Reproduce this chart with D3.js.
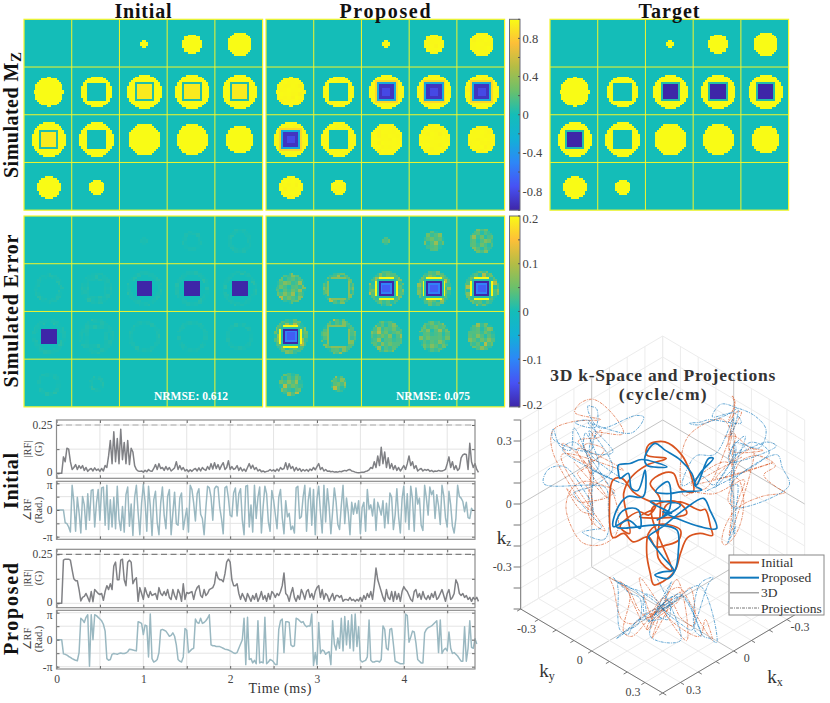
<!DOCTYPE html>
<html>
<head>
<meta charset="utf-8">
<script src="https://d3js.org/d3.v7.min.js"></script>
<style>
  body { margin: 0; background: #fff; }
  text { font-family: "Liberation Serif", serif; }
</style>
</head>
<body>
<script>
// ---------- phantom data (matrix pixels) ----------
var diskRadius = [
  [0, 0, 2.1, 5, 6.3],
  [7.6, 8.1, 8.9, 9.1, 9.1],
  [8.9, 8.9, 8.5, 8.2, 7.2],
  [5.9, 4.3, 0, 0, 0]
];
// 0 nothing, 1 hole in the disk, 2 inverted square
var insetKind = [
  [0, 0, 0, 0, 0],
  [0, 1, 2, 2, 2],
  [2, 1, 0, 0, 0],
  [0, 0, 0, 0, 0]
];
// speckle seen inside the disks of the proposed error map
var speckle = [
  "3415203416253", "2630415270314", "4152637041526", "1408253162403",
  "5263104527361", "0341728305142", "3625140316258", "2514063725130",
  "4071352614036", "1362540271425", "5240316482513", "3715024135260",
  "2403651270341"
];
var speckleLevels = [.01, .02, .03, .035, .04, .05, .065, .08, .1, .13];
var mzTicks = [.8, .4, 0, -.4, -.8];
var mzMinor = [1, .6, .2, -.2, -.6, -1];
var errTicks = [.2, .1, 0, -.1, -.2];
var errMinor = [.15, .05, -.05, -.15];
var parulaStops = [-1, -.75, -.5, -.25, 0, .25, .5, .75, 1];
var parulaColors = ["#3e26a8", "#4752f4", "#2d87f7", "#12b1d6", "#14bdb8", "#6bc06b", "#b4bd45", "#fdbf38", "#f9fb15"];

// ---------- RF waveforms, one value every 0.02 ms ----------
var rfStep = 0.02;
var initialMag = [0,0,0,0,.085,.06,.13,.125,.06,.02,.03,.045,.02,.04,.025,.04,.015,.03,.01,.02,.025,
  .012,.028,.015,.022,.01,.025,.012,
  .04,.03,.09,.17,.05,.215,.06,.18,.05,.228,.07,.16,.05,.17,.045,.13,.11,.04,.02,.012,
  .01,.012,.006,.015,.008,.02,.012,.01,.025,.045,.02,.05,.025,.03,.015,.035,.018,.03,.012,.02,
  .028,.06,.02,.04,.018,.03,.012,.02,.008,.018,.01,.02,.025,.012,.028,.012,.03,.02,.015,.035,
  .02,.05,.022,.055,.025,.045,.02,.04,.055,.02,.03,.065,.02,.035,.02,
  .025,.04,.015,.03,.012,.022,.01,.03,.05,.025,.042,.02,.03,.012,.02,.008,.012,.006,.01,.012,
  .02,.012,.018,.01,.022,.012,.03,.02,.025,.055,.02,.05,.025,.035,.012,.03,.015,.025,.01,.02,
  .012,.02,.01,.022,.015,.03,.018,.035,.05,.02,
  .03,.012,.02,.01,.012,.008,.01,.006,.008,.006,.01,.008,.012,.015,.012,.018,.02,.012,.01,.006,.004,.003,.004,.006,.005,
  .01,.012,.018,.03,.025,.06,.03,.09,.04,.135,.05,.11,.03,.08,.025,.05,.02,.04,.015,.03,.012,.025,.04,.02,.05,
  .09,.04,.06,.025,.04,.012,.02,.025,.012,.02,.015,.02,.01,.015,.008,.012,.01,.015,.012,.012,.015,.02,.05,.085,.03,
  .06,.02,.04,.015,.025,.08,.095,.1,.098,.02,.155,.06,.03,.05,.02,.005];
var initialPhase = [0,0,0,0,0,-1.5,-1.6,-2,-2.6,2.9,1,-2.5,1.5,-.3,-2.7,1.6,.6,-2.3,1.9,-1.2,2.3,2.4,-2,.8,2.4,-1.2,2.6,2.7,-1.8,2.9,
  -2.3,1.2,-2,1.5,-2.2,2.8,-1.1,-2.4,.4,-2.6,1.8,2.7,-1.9,.7,-3,1.5,2.9,-.3,-2.9,.8,
  3,1,-2.5,2.8,.5,-3,1.2,2.2,-1.5,-2.9,.8,2.7,-.6,-2.2,1.6,2.4,-2.9,-.4,2.1,-1.6,
  -1.8,1.4,2,-2.3,-1,.2,-2.6,2.9,2.4,.8,-1.3,1.9,2.5,-.5,-1,-2.9,.2,2.8,2.6,1.5,
  -1.2,2.5,2.8,2.7,.3,-1,-2.8,2.6,2.8,1.4,-.6,-.8,2,2.6,-.7,1.9,2.5,-1.2,-2.9,2.8,
  2.9,-2,.6,-2.6,2.9,-1,1.5,2.7,-2.7,.4,2.8,1.9,-1.4,-2.5,2.3,1.2,-.5,-2.2,1.5,2.4,
  -.9,-2.8,1.1,-.8,-.4,-2.3,-1.9,-2.7,2.6,2.8,-1,-.8,1.5,2.9,-2.5,1.2,2.6,-1.8,2.4,-2.9,
  1.3,2.8,-.3,-2.7,2.9,-1.4,2.5,.4,-2.8,-.2,2.6,1,-1.7,-2.3,.5,2.9,-1.6,1.4,-.3,-2.9,
  .9,-.5,.8,-.4,1.1,-2.8,.3,.9,-2.5,2.4,.1,.6,-.7,1.3,-2.4,.9,.2,-.6,1.1,-2.1,
  .8,-1.6,2,1.5,-2.3,-.6,2.5,-.8,-2.7,1.3,2.8,-1.4,1.9,-2.3,2.8,1.3,-2.5,2.6,.7,1.4,
  -1.8,-2.4,2.9,1.4,-.6,2.7,1.8,2.3,-1,1.8,.5,-1.7,2.9,1.7,-.9,-2,2.2,.6,-1.9,-2.7,
  -1,2.9,1.6,1.4,1,-.2,.9,-.9,-1,.2,-.1];
var proposedMag = [0,0,0,0,.22,.225,.225,.225,.22,.17,.125,.115,.115,.07,.012,.03,.035,.05,.03,.008,.06,.008,.07,.06,.05,.045,.05,.015,.06,.09,.07,
  .1,.07,.19,.21,.12,.12,.22,.225,.12,.09,.21,.22,.21,.1,.12,.13,.01,.08,.05,.02,.08,.05,.03,.06,.04,.045,.05,.02,.08,.05,.04,.06,.04,.07,.03,.02,.07,.04,.02,.07,.05,.01,.1,.02,.055,.05,.055,.06,.02,.06,.08,.09,.04,.03,.07,.04,.05,.07,.075,.08,.1,.16,.13,.12,.12,.11,.15,.21,.225,.21,.12,.09,.09,.1,.05,.02,.05,.03,.01,.05,.03,.01,
  .04,.02,.05,.01,.03,.06,.02,.04,.01,.05,.02,.06,.05,.03,.05,.04,.06,.09,.155,.05,.04,.01,.05,.08,.03,.01,.04,.02,.07,.05,.02,.06,.07,.03,.05,.02,.06,.08,.09,.03,
  .07,.02,.05,.04,.01,.03,.05,.015,.04,.04,.03,.04,.01,.02,.02,.015,.03,.015,.02,.01,.02,.012,.03,.01,.04,
  .02,.05,.03,.06,.02,.09,.18,.12,.09,.06,.03,.01,.07,.03,.02,.06,.01,.06,.02,.05,.01,.06,.085,.07,.06,
  .04,.02,.01,.06,.07,.03,.05,.02,.06,.03,.02,.04,.02,.05,.03,.06,.02,.03,.05,.07,.04,.01,.05,.07,.02,
  .03,.05,.12,.1,.05,.04,.05,.03,.04,.02,.03,.01,.03,.02,.03,.01];
var proposedPhase = [0,0,0,0,-1.65,-1.7,-1.8,-1.95,-2.05,-2.2,-2.3,-2.4,-2.45,-1.5,2.5,2.3,2,2.6,2.9,-3.1,2.9,0,2.9,2.8,2.6,2.4,2.2,1.8,1,-2.2,-2.4,-2.3,-1.7,-1.6,-1.65,-1.7,-1.6,-1.55,-1.6,-1.6,-1.55,-1.4,-1.1,-1.15,-1.2,-1.25,-1.3,2.1,2,1.9,.6,1.7,1.6,-2,3,-2.2,-2.6,-2.5,-2.3,-1.5,1.1,1.2,1.1,1,.7,.4,.5,.8,.4,-.6,-2.3,-2.5,-2.6,-2,1.3,1.1,-1.5,-1.3,-1.1,-1,2.4,2,1.9,2.5,1.9,2,2.2,2.5,2.9,-.6,-.7,-.7,-.8,-.8,-.8,-.9,-1,-1.1,-1.15,-1.2,-1.3,-1.4,-1.55,-1.6,-1.5,-1,-.5,0,2.5,-2.9,2.6,-2.3,
  -2.2,-2.7,-2.4,-2.8,2.2,-2.7,-2.6,-2.7,2.6,-2.8,-2.6,-2.3,-2.4,-2.6,-2.9,
  -2.9,1.2,2.2,2.4,-1.5,2.1,2.1,2,-.6,-.8,-.7,2.5,2.4,2.2,2,2.1,1.7,1.5,1.6,1.6,3,-3,-1.5,-2.9,2,
  -1.6,-1.2,-1.3,-1.7,-1.5,-1.4,-2.9,2.2,-.5,-1.2,.2,-1,2.5,-1.3,2.7,-.6,2.2,-1,2.9,-1.3,3,-.8,1.5,-2.4,-2.6,
  -2.5,-2.4,-2,2.3,-2.4,-2.6,-2.6,-2.5,-2.5,-2.6,-2.3,1.6,1.2,-1,-1.2,1.2,1.3,-.5,-2.5,-2.6,-2.7,-2.8,-2.8,-2.8,3,
  2.8,-.3,.3,1,.9,-.4,-2.3,-2.5,-2.7,-2.7,.8,1.2,1.4,1.5,1.6,1.8,2,2.2,-1.5,2.3,-1.6,-1.2,-1,-1.3,.9,
  -1,-1.6,-1.5,-1.7,-1.9,-2.2,-2.5,-2.5,1.5,-2.5,-1,2.2,-.9,-1,.1,-.5];
var timeTicks = [0, .5, 1, 1.5, 2, 2.5, 3, 3.5, 4, 4.5];
var timeLabels = [0, 1, 2, 3, 4];
var magTicks = [0, .125, .25];
var phaseTicks = [-Math.PI, -Math.PI / 2, 0, Math.PI / 2, Math.PI];

// ---------- k-space trajectories [kx, ky, kz] in cycle/cm ----------
var initialTraj = [[0,0,-.06],[.02,.04,.025],[.04,.14,.1],[.025,.235,.1],[-.07,.17,.024],[-.025,.245,0],[.01,.29,0],[-.045,.165,-.08],[-.12,.02,-.21],[-.15,-.05,-.335],[-.135,-.065,-.415],[-.05,-.05,-.42],[.05,0,-.36],[.115,.045,-.25],[.145,.055,-.135],[.11,.03,-.07],[.045,.015,-.07],[-.06,-.02,-.14],[-.13,-.03,-.204],[-.085,.005,-.212],[0,.02,-.186],[.07,.03,-.154],[.14,.06,-.056],[.058,-.108,-.205],[-.01,-.23,-.26],[0,-.28,-.3],[0,-.3,-.163],[.03,-.25,.004],[.165,-.065,.172],[.153,-.013,.128],[.085,-.025,.057],[.02,-.02,-.005],[.08,0,-.013],[.075,-.055,-.027],[.005,-.185,-.151],[0,-.24,-.228],[.023,-.163,-.21],[.22,0,.16],[.218,.043,.26],[.105,.015,.245],[-.05,-.03,.177],[.095,.005,.283],[.07,-.01,.311],[-.006,.006,.296],[-.11,-.01,.181],[-.178,-.022,.046],[-.006,.166,.138],[-.01,.09,.114],[-.05,.01,.126],[-.05,-.05,.096],[.075,.005,.138],[.008,-.008,.027],[.012,-.012,-.259],[-.075,-.025,-.365],[.17,.11,.119],[-.18,-.1,-.129],[.083,.218,.105],[-.085,-.215,-.211],[.1,.05,.05]];
var proposedTraj = [[0,0,-.06],[-.04,0,-.04],[.035,.065,.156],[.04,0,.078],[-.07,-.03,0],[-.12,-.02,-.012],[.02,.24,.196],[.01,.19,.19],[-.225,-.015,.026],[-.293,-.008,.067],[-.249,.009,.097],[-.045,.145,.14],[.018,.182,.246],[.02,.12,.279],[.004,.017,.267],[-.028,-.072,.239],[-.02,-.12,.155],[.095,.005,.235],[.018,.042,.207],[-.021,-.139,.132],[-.008,-.192,.093],[0,-.25,.06],[.045,-.205,.074],[.22,-.02,.222],[.217,.023,.266],[.178,.003,.164],[.119,-.019,.116],[.1,0,.212],[.005,-.105,-.015],[-.01,-.21,-.075],[0,-.26,-.159],[-.011,-.289,-.258],[.017,-.177,-.157],[.014,-.114,-.166],[.139,.002,.041],[.197,.003,.079],[.25,.01,.085],[.27,.01,.032],[.002,-.022,-.11],[-.08,0,-.164],[-.094,-.006,-.277],[-.095,-.025,-.375],[-.066,-.034,-.404],[.052,.008,-.308],[0,0,-.323],[-.055,.005,-.34],[.01,.01,-.241],[.095,.025,-.112],[.1,.02,-.096],[-.01,-.01,-.118],[-.118,-.002,-.089],[.015,.245,.157],[.007,.273,.111],[.008,.312,.044],[-.215,-.005,-.218],[-.09,-.01,-.119],[0,0,-.037],[-.155,-.105,-.175],[.165,.095,.141],[.1,.2,.145],[-.133,-.167,-.227]];
var kTicks = [-.4, -.3, -.2, -.1, 0, .1, .2, .3, .4];
var kzTicks = [-.5, -.4, -.3, -.2, -.1, 0, .1, .2, .3, .4];
var kLabels = [-.3, 0, .3];
var legendNames = ["Initial", "Proposed", "3D", "Projections"];

var orange = "#d9531e", blue = "#0f78bd";
var svg = d3.select("body").append("svg").attr("width", 830).attr("height", 703);

// small text helper
function label(parent, x, y, str, size, opts) {
  opts = opts || {};
  var t = parent.append("text")
    .attr("x", x).attr("y", y)
    .attr("font-size", size)
    .attr("text-anchor", opts.anchor || "middle")
    .attr("fill", opts.fill || "#444")
    .attr("font-weight", opts.bold ? "bold" : null)
    .text(str);
  if (opts.len) t.attr("textLength", opts.len).attr("lengthAdjust", "spacing");
  if (opts.rot) t.attr("transform", "rotate(-90," + x + "," + y + ")");
  return t;
}

// ****************** 3D k-space ******************
var kxS = d3.scaleLinear().domain([-.4, .4]).range([-71, 71]);
var kyS = d3.scaleLinear().domain([-.4, .4]).range([-42, 42]);
var kzS = d3.scaleLinear().domain([-.5, .4]).range([0, 189]);
var cx3 = 662.7, floorY = 609;
function project(p) {
  return [cx3 + kxS(p[1]) - kxS(p[0]), floorY + kyS(p[0]) + kyS(p[1]) - kzS(p[2])];
}
var g3 = svg.append("g");
function seg(a, b, color, w) {
  var p = project(a), q = project(b);
  g3.append("line").attr("x1", p[0]).attr("y1", p[1]).attr("x2", q[0]).attr("y2", q[1])
    .attr("stroke", color).attr("stroke-width", w);
}
var zLo = -.5, zHi = .4, kLo = -.4, kHi = .4;
kTicks.forEach(function (k) {
  var col = k === 0 ? "#c4c4c4" : "#ececec";
  // floor
  seg([k, kLo, zLo], [k, kHi, zLo], col, 1);
  seg([kLo, k, zLo], [kHi, k, zLo], col, 1);
  // two back walls
  seg([k, kLo, zLo], [k, kLo, zHi], col, 1);
  seg([kLo, k, zLo], [kLo, k, zHi], col, 1);
});
kzTicks.forEach(function (z) {
  var col = z === 0 ? "#c4c4c4" : "#ececec";
  seg([kHi, kLo, z], [kLo, kLo, z], col, 1);
  seg([kLo, kLo, z], [kLo, kHi, z], col, 1);
});
// box edges and ticks
seg([kHi, kLo, zLo], [kHi, kLo, zHi], "#777", 1);
seg([kHi, kLo, zLo], [kHi, kHi, zLo], "#777", 1);
seg([kLo, kHi, zLo], [kHi, kHi, zLo], "#777", 1);
kzTicks.forEach(function (z) { seg([kHi, kLo, z], [kHi + .02, kLo - .02, z], "#777", 1); });
kTicks.forEach(function (k) {
  seg([kHi, k, zLo], [kHi + .02, k, zLo], "#777", 1);
  seg([k, kHi, zLo], [k, kHi + .02, zLo], "#777", 1);
});
kLabels.forEach(function (k) {
  var a = project([kHi, k, zLo]), b = project([k, kHi, zLo]), c = project([kHi, kLo, k]);
  label(g3, a[0] - 12, a[1] + 13, k, 12);
  label(g3, b[0] + 13, b[1] + 11, k, 12);
  label(g3, c[0] - 9, c[1] + 4, k, 12, { anchor: "end" });
});
var kLine = d3.line().curve(d3.curveCatmullRom.alpha(.5));
function drawTraj(traj, color) {
  // projections on the floor and the two walls
  var projs = [
    traj.map(function (p) { return [p[0], p[1], zLo]; }),
    traj.map(function (p) { return [p[0], kLo, p[2]]; }),
    traj.map(function (p) { return [kLo, p[1], p[2]]; })
  ];
  projs.forEach(function (pts) {
    g3.append("path").attr("d", kLine(pts.map(project)))
      .attr("fill", "none").attr("stroke", color).attr("stroke-width", .75)
      .attr("stroke-dasharray", "3,1,1,1").attr("opacity", .85);
  });
}
function draw3D(traj, color) {
  g3.append("path").attr("d", kLine(traj.map(project)))
    .attr("fill", "none").attr("stroke", color).attr("stroke-width", 1.7);
}
drawTraj(initialTraj, orange);
drawTraj(proposedTraj, blue);
draw3D(initialTraj, orange);
draw3D(proposedTraj, blue);

label(svg, cx3, 381, "3D k-Space and Projections", 17.5, { bold: true, fill: "#333", len: 225 });
label(svg, cx3, 400, "(cycle/cm)", 17.5, { bold: true, fill: "#333", len: 88 });
var tz = label(svg, 504, 544, "k", 19, { fill: "#333" });
tz.append("tspan").attr("font-size", 11).attr("dy", 2).text("z");
var ty = label(svg, 547, 677, "k", 19, { fill: "#333" });
ty.append("tspan").attr("font-size", 12).attr("dy", 3).text("y");
var tx = label(svg, 775, 683, "k", 19, { fill: "#333" });
tx.append("tspan").attr("font-size", 12).attr("dy", 3).text("x");

// legend
var lg = svg.append("g").attr("transform", "translate(729,555)");
lg.append("rect").attr("width", 95).attr("height", 60).attr("fill", "#fff").attr("stroke", "#888");
var legendRow = d3.scalePoint().domain(legendNames).range([7.5, 53]);
legendNames.forEach(function (n, i) {
  var c = [orange, blue, "#777", "#777"][i];
  lg.append("line").attr("x1", 1).attr("x2", 30).attr("y1", legendRow(n)).attr("y2", legendRow(n))
    .attr("stroke", c).attr("stroke-width", i < 2 ? 2 : 1)
    .attr("stroke-dasharray", i === 3 ? "3,1,1,1" : null);
  label(lg, 32, legendRow(n) + 4.5, n, 13.5, { anchor: "start", fill: "#333" });
});

// ****************** image panels ******************
var parula = d3.scaleLinear().domain(parulaStops).range(parulaColors).clamp(true);
var cellPx = 47.72, matPx = cellPx / 25;
var rows = d3.range(4), cols = d3.range(5);

function speckleAt(i, j, n) {
  var row = speckle[Math.floor((j + n * 3) / 2) % 13];
  return speckleLevels[+row[Math.floor((i + n * 5) / 2) % 13]];
}
// value of one matrix pixel, dx/dy measured from the disk centre
var panelValue = {
  initMz: function (r, ins, dx, dy) {
    var m = Math.max(Math.abs(dx), Math.abs(dy));
    if (ins === 1 && m < 5) return 0;
    if (ins === 2 && m < 4) return .93;
    if (ins === 2 && m < 5) return .04;
    return Math.hypot(dx, dy) <= r ? 1 : 0;
  },
  targetMz: function (r, ins, dx, dy) {
    var m = Math.max(Math.abs(dx), Math.abs(dy));
    if (ins === 1 && m < 5) return 0;
    if (ins === 2 && m < 4) return -1;
    if (ins === 2 && m < 5) return .04;
    return Math.hypot(dx, dy) <= r ? 1 : 0;
  },
  propMz: function (r, ins, dx, dy, lev) {
    var m = Math.max(Math.abs(dx), Math.abs(dy));
    if (ins === 1 && m < 5) return 0;
    if (ins === 2 && m < 2) return -.8;
    if (ins === 2 && m < 4) return -.92;
    if (ins === 2 && m < 5) return -.3;
    if (ins === 2 && m < 6) return .85;
    return Math.hypot(dx, dy) <= r ? 1 - lev * .35 : 0;
  },
  initErr: function (r, ins, dx, dy, lev) {
    var m = Math.max(Math.abs(dx), Math.abs(dy)), d = Math.hypot(dx, dy);
    if (ins === 2 && m < 4) return -.2;
    if (d <= r && d > r - 2) return lev * .12;
    if (d <= r && ins === 1 && m > 4 && m < 6) return lev * .12;
    return 0;
  },
  propErr: function (r, ins, dx, dy, lev) {
    var a = Math.abs(dx), b = Math.abs(dy), m = Math.max(a, b), s = Math.min(a, b);
    if (ins === 2 && m < 2) return -.14;
    if (ins === 2 && m < 3) return -.105;
    if (ins === 2 && m < 4) return -.2;
    if (ins === 2 && m < 5) return .01;
    if (ins === 2 && m < 6 && s < 4.5) return .2;
    if (ins === 1 && m < 5) return 0;
    if (ins === 1 && m < 6 && s < 4) return .07;
    return Math.hypot(dx, dy) <= r ? lev : 0;
  }
};

function drawPanel(x0, y0, kind, cmax, nrmse) {
  var g = svg.append("g").attr("transform", "translate(" + x0 + "," + y0 + ")");
  var w = cellPx * 5, h = cellPx * 4;
  var xS = d3.scaleLinear().domain([0, 5]).range([0, w]);
  var yS = d3.scaleLinear().domain([0, 4]).range([0, h]);
  g.append("rect").attr("width", w).attr("height", h).attr("fill", parula(0));
  var img = g.append("g").attr("shape-rendering", "crispEdges");
  rows.forEach(function (r) {
    cols.forEach(function (c) {
      var rad = diskRadius[r][c], ins = insetKind[r][c], n = r * 5 + c;
      if (!rad) return;
      d3.range(26).forEach(function (j) {
        var run = null;
        d3.range(27).forEach(function (i) {
          var v = i < 26 ? panelValue[kind](rad, ins, i + .5 - 13, j + .5 - 13, speckleAt(i, j, n)) : 0;
          if (run && run.v === v) { run.n++; return; }
          if (run && run.v !== 0) {
            img.append("rect")
              .attr("x", xS(c) + run.i * matPx).attr("y", yS(r) + j * matPx)
              .attr("width", run.n * matPx + .3).attr("height", matPx + .3)
              .attr("fill", parula(run.v / cmax));
          }
          run = { i: i, n: 1, v: v };
        });
      });
    });
  });
  // grid and frame
  d3.range(1, 5).forEach(function (c) {
    g.append("line").attr("x1", xS(c)).attr("x2", xS(c)).attr("y1", 0).attr("y2", h)
      .attr("stroke", "#f4f52a").attr("stroke-width", 1);
  });
  d3.range(1, 4).forEach(function (r) {
    g.append("line").attr("y1", yS(r)).attr("y2", yS(r)).attr("x1", 0).attr("x2", w)
      .attr("stroke", "#f4f52a").attr("stroke-width", 1);
  });
  g.append("rect").attr("width", w).attr("height", h).attr("fill", "none")
    .attr("stroke", "#f4f52a").attr("stroke-width", 1.2);
  if (nrmse) label(g, xS(3.5), h - 7, nrmse, 11.5, { bold: true, fill: "#fff", len: 74 });
}
var colX = [24, 266, 550], rowY = [19.3, 216];
drawPanel(colX[0], rowY[0], "initMz", 1);
drawPanel(colX[1], rowY[0], "propMz", 1);
drawPanel(colX[2], rowY[0], "targetMz", 1);
drawPanel(colX[0], rowY[1], "initErr", .2, "NRMSE: 0.612");
drawPanel(colX[1], rowY[1], "propErr", .2, "NRMSE: 0.075");

function drawColorbar(y0, cmax, ticks, minor, lift) {
  var cb = svg.append("g").attr("transform", "translate(509.5," + y0 + ")");
  var s = d3.scaleLinear().domain([-cmax, cmax]).range([cellPx * 4, 0]);
  var id = "cb" + y0;
  var grad = svg.append("linearGradient").attr("id", id).attr("x1", 0).attr("x2", 0).attr("y1", 1).attr("y2", 0);
  parulaStops.forEach(function (p, i) {
    grad.append("stop").attr("offset", (p + 1) / 2).attr("stop-color", parulaColors[i]);
  });
  cb.append("rect").attr("width", 10.5).attr("height", cellPx * 4)
    .attr("fill", "url(#" + id + ")").attr("stroke", "#6d6d7a").attr("stroke-width", 1);
  ticks.concat(minor).forEach(function (t) {
    cb.append("line").attr("x1", 8.5).attr("x2", 10.5).attr("y1", s(t)).attr("y2", s(t)).attr("stroke", "#555");
  });
  ticks.forEach(function (t) {
    var ly = s(t) + 4.5;
    if (t === cmax) ly += lift;
    if (t === -cmax) ly -= lift;
    label(cb, 13, ly, t, 12.5, { anchor: "start" });
  });
}
drawColorbar(rowY[0], 1, mzTicks, mzMinor, 0);
drawColorbar(rowY[1], .2, errTicks, errMinor, 2);

// ****************** RF plots ******************
var rfX = d3.scaleLinear().domain([0, 4.82]).range([56.5, 475]);
var rfLine = function (y) {
  return d3.line().x(function (d, i) { return rfX(i * rfStep); }).y(function (d) { return y(d); });
};
function rfPlot(top, bottom, y, values, color, yt, fmt, dash, dashColor, showX) {
  var g = svg.append("g");
  // grid
  timeTicks.slice(1).forEach(function (t) {
    g.append("line").attr("x1", rfX(t)).attr("x2", rfX(t)).attr("y1", top).attr("y2", bottom).attr("stroke", "#e4e4e4");
  });
  yt.forEach(function (t) {
    g.append("line").attr("x1", rfX.range()[0]).attr("x2", rfX.range()[1]).attr("y1", y(t)).attr("y2", y(t)).attr("stroke", "#e4e4e4");
  });
  if (dash) {
    g.append("line").attr("x1", rfX.range()[0]).attr("x2", rfX.range()[1]).attr("y1", y(.25)).attr("y2", y(.25))
      .attr("stroke", dashColor).attr("stroke-width", 1).attr("stroke-dasharray", "6,3.5");
  }
  g.append("path").datum(values).attr("d", rfLine(y)).attr("fill", "none")
    .attr("stroke", color).attr("stroke-width", 1.5).attr("stroke-linejoin", "round");
  // axes, ticks pointing inward
  var ax = g.append("g").attr("transform", "translate(" + rfX.range()[0] + ",0)")
    .call(d3.axisLeft(y).tickValues(yt).tickSize(-3).tickPadding(4).tickFormat(fmt));
  var axR = g.append("g").attr("transform", "translate(" + rfX.range()[1] + ",0)")
    .call(d3.axisRight(y).tickValues(yt).tickSize(-3).tickFormat(""));
  var axB = g.append("g").attr("transform", "translate(0," + bottom + ")")
    .call(d3.axisBottom(rfX).tickValues(timeTicks).tickSize(-3).tickPadding(6)
      .tickFormat(function (t) { return showX && timeLabels.indexOf(t) >= 0 ? t : ""; }));
  var axT = g.append("g").attr("transform", "translate(0," + top + ")")
    .call(d3.axisTop(rfX).tickValues(timeTicks).tickSize(-3).tickFormat(""));
  [ax, axR, axB, axT].forEach(function (a) {
    a.selectAll(".domain").remove();
    a.selectAll("line").attr("stroke", "#666");
    a.selectAll("text").attr("font-size", 11.5).attr("font-family", "Liberation Serif").attr("fill", "#444");
  });
  // keep the neighbouring "0" and "π" labels apart
  ax.selectAll("text").attr("transform", function (t) {
    if (dash && t === 0) return "translate(0,-1.7)";
    if (t === Math.PI) return "translate(0,1.7)";
    return null;
  });
  g.append("rect").attr("x", rfX.range()[0]).attr("y", top)
    .attr("width", rfX.range()[1] - rfX.range()[0]).attr("height", bottom - top)
    .attr("fill", "none").attr("stroke", "#8c8c8c").attr("stroke-width", 1.2);
}
function magFmt(t) { return t === .25 ? "0.25" : t === 0 ? "0" : ""; }
function phaseFmt(t) { return t === 0 ? "0" : t === Math.PI ? "π" : t === -Math.PI ? "-π" : ""; }
var gray = "#808185", steel = "#9ab8c1";

var y1 = d3.scaleLinear().domain([0, .25]).range([473.3, 425]);
var y2 = d3.scaleLinear().domain([-Math.PI, Math.PI]).range([536.7, 483.3]);
var y3 = d3.scaleLinear().domain([0, .25]).range([603.3, 554.3]);
var y4 = d3.scaleLinear().domain([-Math.PI, Math.PI]).range([666.7, 612.7]);
rfPlot(420, 478.3, y1, initialMag, gray, magTicks, magFmt, true, "#aaa", false);
rfPlot(481.3, 539.3, y2, initialPhase, steel, phaseTicks, phaseFmt, false, null, false);
rfPlot(549.3, 607.7, y3, proposedMag, gray, magTicks, magFmt, true, "#666", false);
rfPlot(610.3, 669, y4, proposedPhase, steel, phaseTicks, phaseFmt, false, null, true);

label(svg, 280, 693, "Time (ms)", 14, { fill: "#333", len: 63 });
[[449, "|RF|", "(G)"], [510, "∠RF", "(Rad.)"], [578, "|RF|", "(G)"], [639, "∠RF", "(Rad.)"]].forEach(function (d) {
  label(svg, 31, d[0], d[1], 10.5, { rot: true });
  label(svg, 42, d[0], d[2], 10.5, { rot: true });
});

// ****************** headings ******************
label(svg, 143, 18, "Initial", 20, { bold: true, fill: "#111", len: 57 });
label(svg, 385, 18, "Proposed", 20, { bold: true, fill: "#111", len: 91 });
label(svg, 669, 18, "Target", 20, { bold: true, fill: "#111", len: 61 });
var mzLab = label(svg, 18, 115, "Simulated M", 20, { bold: true, fill: "#111", rot: true, len: 126 });
mzLab.append("tspan").attr("font-size", 15).attr("dy", 3).text("Z");
label(svg, 18, 311, "Simulated Error", 20, { bold: true, fill: "#111", rot: true, len: 153 });
label(svg, 18, 481, "Initial", 20, { bold: true, fill: "#111", rot: true, len: 56 });
label(svg, 18, 609, "Proposed", 20, { bold: true, fill: "#111", rot: true, len: 92 });
</script>
</body>
</html>
